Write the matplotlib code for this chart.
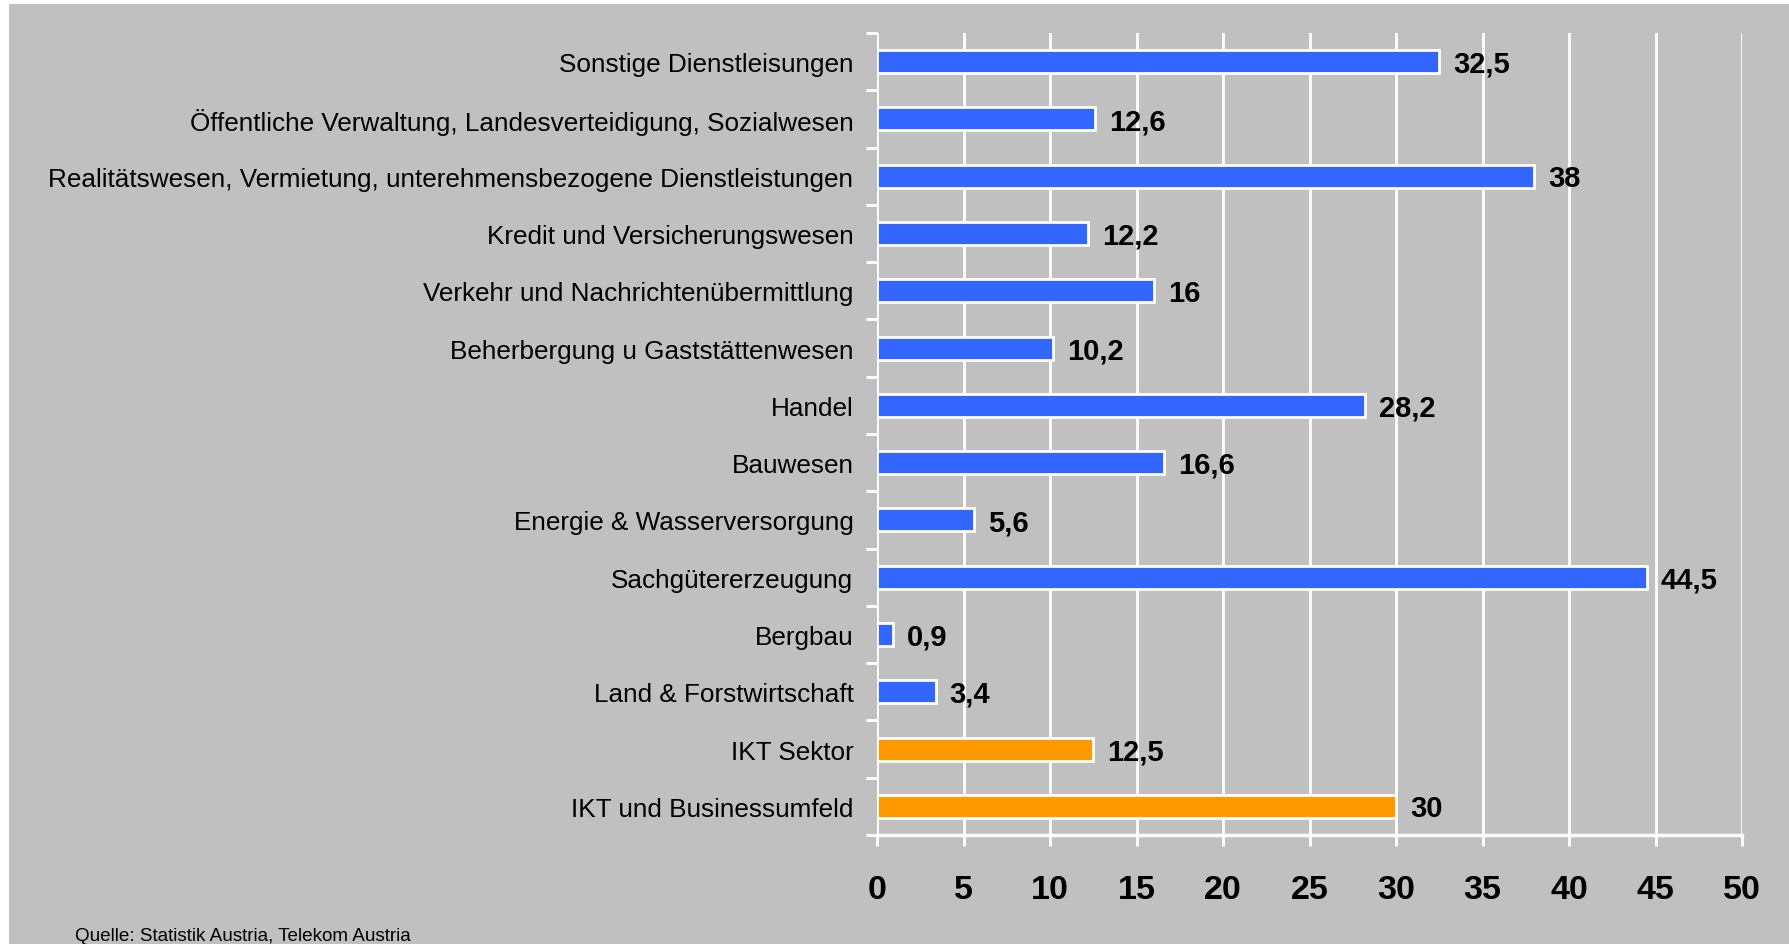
import matplotlib
matplotlib.use("Agg")
import matplotlib.pyplot as plt
from matplotlib.patches import Rectangle
import numpy as np

categories = [
    "Sonstige Dienstleisungen",
    "Öffentliche Verwaltung, Landesverteidigung, Sozialwesen",
    "Realitätswesen, Vermietung, unterehmensbezogene Dienstleistungen",
    "Kredit und Versicherungswesen",
    "Verkehr und Nachrichtenübermittlung",
    "Beherbergung u Gaststättenwesen",
    "Handel",
    "Bauwesen",
    "Energie & Wasserversorgung",
    "Sachgütererzeugung",
    "Bergbau",
    "Land & Forstwirtschaft",
    "IKT Sektor",
    "IKT und Businessumfeld",
]
values = [32.5, 12.6, 38, 12.2, 16, 10.2, 28.2, 16.6, 5.6, 44.5, 0.9, 3.4, 12.5, 30]
groups = ["sector"] * 12 + ["ikt"] * 2
group_colors = {"sector": "#3366FF", "ikt": "#FF9900"}
x_ticks = [0, 5, 10, 15, 20, 25, 30, 35, 40, 45, 50]
source = "Quelle: Statistik Austria, Telekom Austria"

W, H = 1789, 945
fig = plt.figure(figsize=(W / 100, H / 100), dpi=100, facecolor="#C0C0C0")
# white strips at the top and left edges
fig.patches.append(Rectangle((0, 1 - 5 / H), 1, 5 / H, transform=fig.transFigure,
                             facecolor="white", edgecolor="none", zorder=-10))
fig.patches.append(Rectangle((0, 0), 9 / W, 1, transform=fig.transFigure,
                             facecolor="white", edgecolor="none", zorder=-10))

ax = fig.add_axes([877 / W, 1 - 836 / H, (1742 - 877) / W, (836 - 34) / H])
ax.set_facecolor("#C0C0C0")
ax.patch.set_alpha(0)

y = np.arange(len(categories))
colors = [group_colors[g] for g in groups]
ax.barh(y, values, height=0.40, color=colors, edgecolor="white", linewidth=2, zorder=3)

for yi, v in zip(y, values):
    ax.annotate(f"{v:g}".replace(".", ","), (v, yi), xytext=(10, -1.5), textcoords="offset points",
                ha="left", va="center", fontsize=21, fontweight="bold",
                family="Liberation Sans", color="black", zorder=4)

ax.set_xlim(0, 50)
ax.set_ylim(len(categories) - 0.5, -0.5)
ax.set_xticks(x_ticks)
ax.set_xticklabels([str(t) for t in x_ticks], fontsize=24.5, fontweight="bold", family="Liberation Sans")
ax.set_yticks(y)
ax.set_yticklabels(categories, fontsize=18.8, family="Liberation Sans")
ax.set_yticks(np.arange(-0.5, len(categories)), minor=True)

ax.tick_params(axis="x", length=8, width=2, color="white", pad=20)
ax.tick_params(axis="y", which="major", length=0, pad=17)
ax.tick_params(axis="y", which="minor", length=8, width=2, color="white")

ax.grid(axis="x", color="white", linewidth=2, zorder=1)
ax.set_axisbelow(True)
for s in ["top", "right", "left"]:
    ax.spines[s].set_visible(False)
ax.spines["bottom"].set_color("white")
ax.spines["bottom"].set_linewidth(2.5)
ax.spines["bottom"].set_zorder(2)

fig.text(75 / W, 1 - 937 / H, source, fontsize=13.6, family="Liberation Sans", va="center", ha="left")

fig.savefig("out.png", dpi=100, facecolor=fig.get_facecolor())
